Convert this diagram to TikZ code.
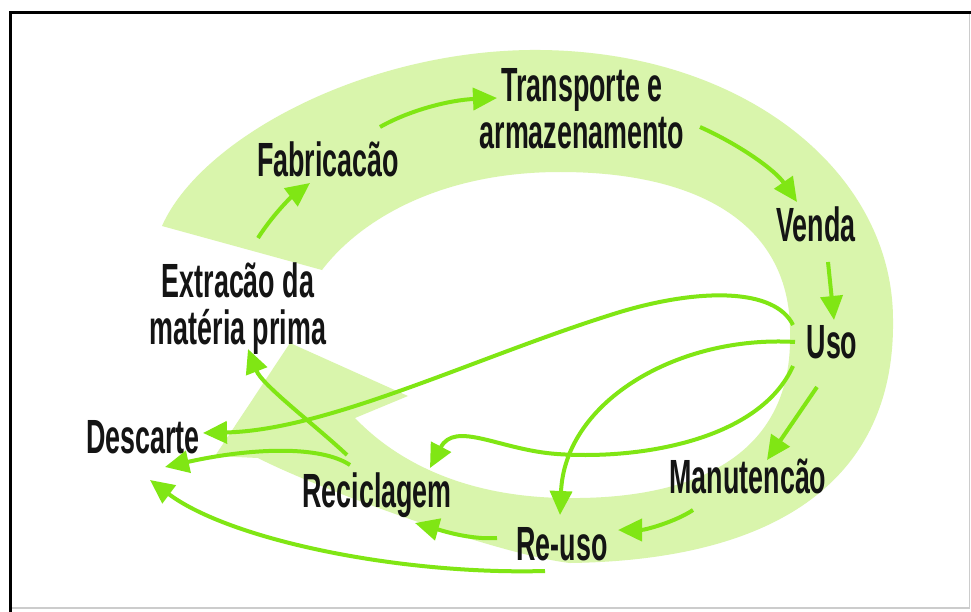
\documentclass[tikz,border=0pt]{standalone}
\usepackage{fontspec}
\newfontfamily\labfont[FakeStretch=0.56]{Liberation Sans}
\usetikzlibrary{arrows.meta}
\definecolor{bandgreen}{RGB}{217,245,172}
\definecolor{arrowgreen}{RGB}{128,230,20}
\begin{document}
\begin{tikzpicture}[x=1pt,y=-1pt,
  lbl/.style={inner sep=0pt, font=\labfont\bfseries\fontsize{48}{47}\selectfont, text=black!92},
  flow/.style={draw=arrowgreen, line width=4pt, -{Triangle[length=24pt,width=22pt]}}]
\useasboundingbox (0,0) rectangle (971,612);
\fill[white] (0,0) rectangle (971,612);
% green band
\fill[bandgreen] (162,226) .. controls (200,140) and (360,52) .. (530,50)
  .. controls (740,48) and (893,170) .. (893,320)
  .. controls (895,470) and (790,560) .. (570,563)
  .. controls (500,555) and (320,490) .. (258,458)
  -- (215,456) -- (290,343) -- (408,396) -- (355,418)
  .. controls (400,465) and (470,497) .. (565,498)
  .. controls (710,500) and (792,445) .. (790,335)
  .. controls (792,225) and (700,172) .. (560,172)
  .. controls (440,172) and (360,220) .. (322,270)
  -- cycle;
% frame
\draw[black!20, line width=1.2pt] (10,608) -- (969.5,608) -- (969.5,12.5);
\draw[black, line width=3pt] (10.5,612) -- (10.5,12.5) -- (971,12.5);
% labels
\node[lbl, anchor=north, align=center] (trans) at (582,68) {Transporte e\\armazenamento};
\node[lbl, anchor=north, align=center] (extr) at (238,263) {Extracão da\\matéria prima};
\node[lbl, anchor=base] (fab) at (328,177) {Fabricacão};
\node[lbl, anchor=base] (venda) at (816,242) {Venda};
\node[lbl, anchor=base] (uso) at (832,358) {Uso};
\node[lbl, anchor=base] (desc) at (143,453) {Descarte};
\node[lbl, anchor=base] (manu) at (748,493) {Manutencão};
\node[lbl, anchor=base] (recic) at (377,507) {Reciclagem};
\node[lbl, anchor=base] (reuso) at (562,560) {Re-uso};
% connectors
\draw[flow] ([shift={(20,-25)}]extr.north) .. controls (272,216) and (290,198) .. ([shift={(-18,6)}]fab.base);
\draw[flow] ([shift={(52,-50)}]fab.base) .. controls (410,110) and (450,100) .. ([shift={(-85,30)}]trans.north);
\draw[flow] ([shift={(118,59)}]trans.north) .. controls (740,145) and (775,170) .. ([shift={(-19,-40)}]venda.base);
\draw[flow] ([shift={(12,20)}]venda.base) -- ([shift={(2,-38)}]uso.base);
\draw[flow] ([shift={(-15,29)}]uso.base) -- ([shift={(19,-33)}]manu.base);
\draw[flow] ([shift={(-55,17)}]manu.base) .. controls (675,522) and (645,530) .. ([shift={(56,-30)}]reuso.base);
\draw[flow] ([shift={(-65,-22)}]reuso.base) .. controls (470,540) and (440,530) .. ([shift={(38,16)}]recic.base);
\draw[flow] ([shift={(-30,-52)}]recic.base) .. controls (315,425) and (262,385) .. ([shift={(10,86)}]extr.north);
\draw[flow] ([shift={(-27,-42)}]recic.base) .. controls (320,445) and (250,448) .. ([shift={(22,14)}]desc.base);
\draw[flow] ([shift={(-17,11)}]reuso.base) .. controls (400,575) and (230,540) .. ([shift={(7,27)}]desc.base);
\draw[flow] ([shift={(-39,-33)}]uso.base) .. controls (775,288) and (700,288) .. (620,312)
  .. controls (480,355) and (330,430) .. ([shift={(60,-20)}]desc.base);
\draw[flow] ([shift={(-39,8)}]uso.base) .. controls (760,440) and (640,460) .. (557,454)
  .. controls (500,450) and (455,420) .. ([shift={(53,-39)}]recic.base);
\draw[flow] ([shift={(-37,-16)}]uso.base) .. controls (680,335) and (565,400) .. ([shift={(-2,-45)}]reuso.base);
\end{tikzpicture}
\end{document}
